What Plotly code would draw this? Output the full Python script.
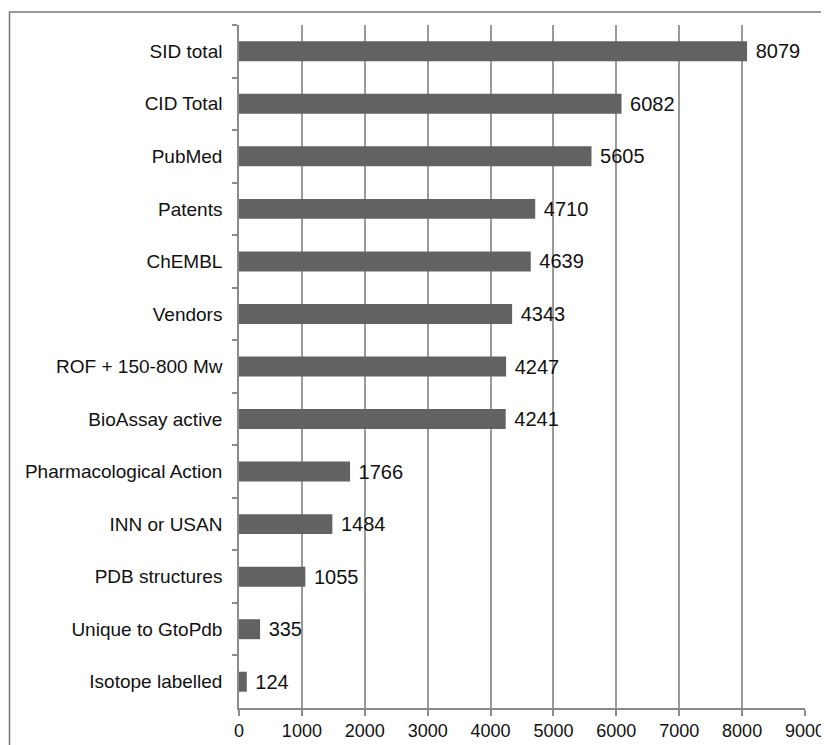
import plotly.graph_objects as go

categories = ["SID total", "CID Total", "PubMed", "Patents", "ChEMBL", "Vendors",
              "ROF + 150-800 Mw", "BioAssay active", "Pharmacological Action",
              "INN or USAN", "PDB structures", "Unique to GtoPdb", "Isotope labelled"]
values = [8079, 6082, 5605, 4710, 4639, 4343, 4247, 4241, 1766, 1484, 1055, 335, 124]
x_ticks = [0, 1000, 2000, 3000, 4000, 5000, 6000, 7000, 8000, 9000]

# the page body has an 8px margin; compensate so the figure fills the 829x745 window
OFF = 8
W, H = 829 - OFF, 745 - OFF
L, R, T, B = 239 - OFF, 24, 25 - OFF, 37
pw = W - L - R
ph = H - T - B

fig = go.Figure(go.Bar(
    x=values, y=categories, orientation="h",
    marker=dict(color="#626262", line=dict(width=0)),
    text=values, texttemplate="\u00a0%{x}", textposition="outside",
    textfont=dict(family="Liberation Sans, Arial", size=20, color="#111111"),
    constraintext="none",
    cliponaxis=False, width=0.38,
))

fig.update_layout(
    width=W, height=H,
    margin=dict(l=L, r=R, t=T, b=B, autoexpand=False),
    paper_bgcolor="white", plot_bgcolor="white",
    showlegend=False,
    font=dict(family="Liberation Sans, Arial", color="#111111"),
    xaxis=dict(range=[0, 9000], tickvals=x_ticks, ticktext=[str(v) for v in x_ticks],
               showgrid=True, gridcolor="#9a9a9a", gridwidth=1.5,
               showline=True, linecolor="#8a8a8a", linewidth=1.5,
               ticks="outside", ticklen=6, tickcolor="#8a8a8a", tickwidth=1.5,
               tickfont=dict(size=18), zeroline=False, fixedrange=True,
               automargin=False),
    yaxis=dict(autorange="reversed", type="category",
               showline=True, linecolor="#8a8a8a", linewidth=1.5,
               ticks="outside", ticklen=5, tickcolor="#8a8a8a", tickwidth=1.5,
               tickson="boundaries", showgrid=False,
               tickfont=dict(size=19), ticklabelstandoff=11, fixedrange=True,
               automargin=False),
    shapes=[dict(type="rect", xref="paper", yref="paper",
                 x0=(9.5 - OFF - L) / pw, x1=(W + 20 - L) / pw,
                 y0=-(B + 20) / ph, y1=1 + (12 - OFF - T) / -ph,
                 line=dict(color="#7a7a7a", width=1.5), fillcolor="rgba(0,0,0,0)",
                 layer="above")],
)

fig.write_html("out.html")
